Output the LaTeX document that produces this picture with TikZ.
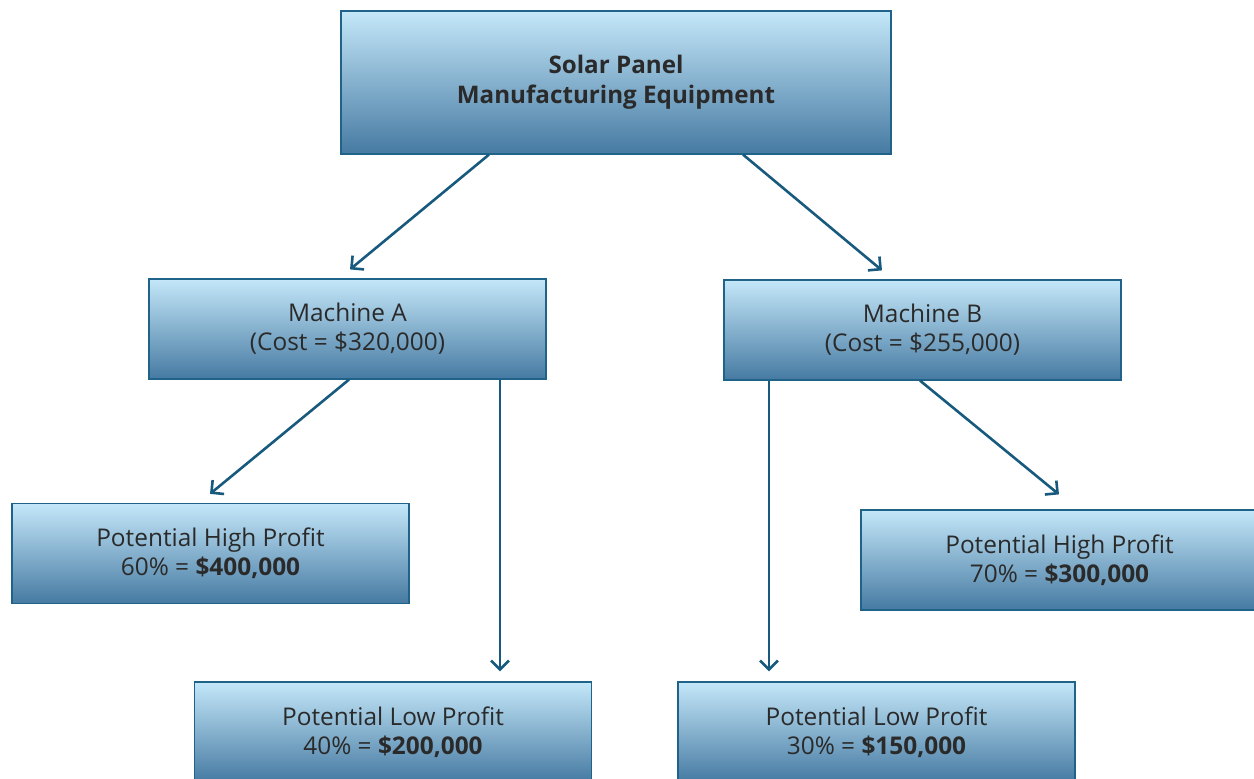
\documentclass[tikz,border=0pt]{standalone}
\usepackage{fontspec}
\setmainfont{Open Sans}
\usetikzlibrary{arrows.meta,calc}
\definecolor{edgeblue}{HTML}{1F6389}
\definecolor{arrblue}{HTML}{185A7E}
\definecolor{topgrad}{HTML}{C4E7F9}
\definecolor{botgrad}{HTML}{467AA2}
\definecolor{txt}{HTML}{2A2A2A}
\tikzset{
  box/.style={draw=edgeblue, line width=1.2pt, top color=topgrad, bottom color=botgrad,
    minimum width=397pt, minimum height=100pt, align=center, text=txt,
    font=\fontsize{24.4}{29}\selectfont, inner sep=0pt},
  arr/.style={draw=arrblue, line width=2.6pt, -{Straight Barb[length=9pt,width=18pt,line width=2.6pt]}}
}
\begin{document}
\begin{tikzpicture}[x=1pt,y=-1pt]
\useasboundingbox (0,0) rectangle (1254,779);
\begin{scope}
\clip (0,0) rectangle (1254,779);
\node[box, minimum width=550pt, minimum height=143pt, font=\bfseries\fontsize{24.2}{30}\selectfont] (top) at (616,82.5) {Solar Panel\\Manufacturing Equipment};
\node[box] (ma) at (347.5,329) {Machine A\\(Cost = \$320,000)};
\node[box] (mb) at (922.5,330) {Machine B\\(Cost = \$255,000)};
\node[box] (ha) at (210.5,553.5) {Potential High Profit\\60\% = \textbf{\$400,000}};
\node[box] (hb) at (1059.5,560) {Potential High Profit\\70\% = \textbf{\$300,000}};
\node[box] (la) at (393,732) {Potential Low Profit\\40\% = \textbf{\$200,000}};
\node[box] (lb) at (876.5,732) {Potential Low Profit\\30\% = \textbf{\$150,000}};
\end{scope}
\draw[arr] ([xshift=-127pt]top.south) -- ([xshift=2.5pt,yshift=9pt]ma.north);
\draw[arr] ([xshift=127pt]top.south) -- ([xshift=-40.5pt,yshift=9pt]mb.north);
\draw[arr] ([xshift=1.5pt]ma.south) -- ([xshift=-0.5pt,yshift=9pt]ha.north);
\draw[arr] ([xshift=152.5pt]ma.south) -- ([xshift=107pt,yshift=10pt]la.north);
\draw[arr] ([xshift=-153.5pt]mb.south) -- ([xshift=-107.5pt,yshift=10pt]lb.north);
\draw[arr] ([xshift=-2.5pt]mb.south) -- ([xshift=-0.5pt,yshift=15pt]hb.north);
\end{tikzpicture}
\end{document}
